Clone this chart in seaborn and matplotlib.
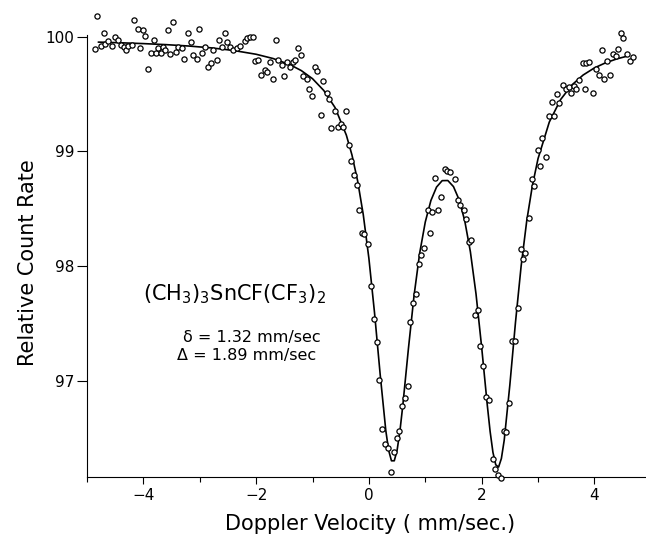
import matplotlib
matplotlib.use("Agg")
import matplotlib.pyplot as plt
import seaborn as sns
from matplotlib.ticker import MultipleLocator

# measured spectrum (open circles)
velocity = [
    -4.855, -4.814, -4.754, -4.707, -4.677, -4.619, -4.559, -4.495, -4.459, -4.399,
    -4.340, -4.305, -4.264, -4.204, -4.158, -4.098, -4.057, -4.009, -3.963, -3.910,
    -3.867, -3.809, -3.785, -3.732, -3.690, -3.654, -3.608, -3.560, -3.525, -3.466,
    -3.418, -3.378, -3.317, -3.271, -3.211, -3.158, -3.112, -3.051, -3.005, -2.963,
    -2.904, -2.846, -2.803, -2.757, -2.697, -2.661, -2.608, -2.550, -2.509, -2.461,
    -2.402, -2.342, -2.284, -2.195, -2.165, -2.106, -2.048, -2.012, -1.959, -1.917,
    -1.840, -1.810, -1.752, -1.704, -1.651, -1.605, -1.544, -1.504, -1.456, -1.397,
    -1.349, -1.309, -1.250, -1.197, -1.161, -1.101, -1.055, -1.012, -0.959, -0.913,
    -0.853, -0.807, -0.746, -0.700, -0.665, -0.599, -0.555, -0.498, -0.452, -0.413,
    -0.360, -0.310, -0.262, -0.215, -0.174, -0.117, -0.080, -0.009, 0.034, 0.087,
    0.142, 0.186, 0.239, 0.287, 0.346, 0.390, 0.443, 0.491, 0.541, 0.585,
    0.638, 0.699, 0.722, 0.789, 0.837, 0.881, 0.926, 0.982, 1.041, 1.085,
    1.126, 1.222, 1.275, 1.177, 1.346, 1.387, 1.440, 1.528, 1.587, 1.624,
    1.688, 1.723, 1.782, 1.809, 1.883, 1.927, 1.972, 2.025, 2.074, 2.126,
    2.197, 2.232, 2.282, 2.339, 2.394, 2.436, 2.480, 2.539, 2.583, 2.637,
    2.699, 2.729, 2.775, 2.832, 2.888, 2.933, 2.995, 3.035, 3.076, 3.137,
    3.200, 3.243, 3.289, 3.332, 3.378, 3.438, 3.491, 3.550, 3.585, 3.638,
    3.674, 3.727, 3.793, 3.833, 3.846, 3.899, 3.980, 4.028, 4.082, 4.129,
    4.170, 4.229, 4.277, 4.324, 4.383, 4.413, 4.466, 4.512, 4.583, 4.631,
    4.690,
]
countRate = [
    99.89, 100.18, 99.92, 100.03, 99.94, 99.96, 99.92, 100.00, 99.97, 99.93,
    99.91, 99.88, 99.92, 99.93, 100.15, 100.07, 99.90, 100.06, 100.01, 99.72,
    99.86, 99.97, 99.86, 99.90, 99.86, 99.91, 99.88, 100.06, 99.85, 100.13,
    99.87, 99.91, 99.90, 99.81, 100.03, 99.95, 99.84, 99.81, 100.07, 99.86,
    99.91, 99.74, 99.77, 99.88, 99.80, 99.97, 99.91, 100.03, 99.95, 99.91,
    99.88, 99.90, 99.92, 99.96, 99.99, 100.00, 100.00, 99.79, 99.80, 99.67,
    99.71, 99.69, 99.78, 99.63, 99.97, 99.80, 99.75, 99.66, 99.78, 99.74,
    99.78, 99.80, 99.90, 99.84, 99.66, 99.63, 99.54, 99.48, 99.74, 99.70,
    99.32, 99.61, 99.51, 99.46, 99.20, 99.35, 99.21, 99.24, 99.21, 99.35,
    99.06, 98.92, 98.79, 98.71, 98.49, 98.29, 98.28, 98.19, 97.83, 97.54,
    97.34, 97.01, 96.58, 96.45, 96.41, 96.20, 96.38, 96.50, 96.56, 96.78,
    96.85, 96.95, 97.51, 97.68, 97.76, 98.02, 98.10, 98.16, 98.49, 98.29,
    98.47, 98.49, 98.60, 98.77, 98.85, 98.83, 98.82, 98.76, 98.58, 98.53,
    98.49, 98.41, 98.21, 98.23, 97.57, 97.62, 97.30, 97.13, 96.86, 96.83,
    96.32, 96.23, 96.18, 96.15, 96.56, 96.55, 96.81, 97.35, 97.35, 97.63,
    98.15, 98.06, 98.11, 98.42, 98.76, 98.70, 99.01, 98.87, 99.12, 98.95,
    99.31, 99.43, 99.31, 99.50, 99.42, 99.58, 99.54, 99.56, 99.51, 99.57,
    99.54, 99.62, 99.77, 99.54, 99.77, 99.78, 99.51, 99.72, 99.67, 99.88,
    99.63, 99.79, 99.67, 99.85, 99.83, 99.89, 100.03, 99.99, 99.85, 99.79,
    99.82,
]

# fitted curve (solid line)
fitVelocity = [
    -4.8, -4.4, -4.0, -3.6, -3.2, -2.8, -2.4, -2.0, -1.7, -1.4, -1.2, -1.0,
    -0.8, -0.6, -0.4, -0.3, -0.2, -0.1, 0.0, 0.1, 0.2, 0.3, 0.35, 0.4, 0.45,
    0.5, 0.55, 0.6, 0.7, 0.8, 0.9, 1.0, 1.1, 1.2, 1.3, 1.4, 1.5, 1.6, 1.7,
    1.8, 1.9, 2.0, 2.1, 2.15, 2.2, 2.25, 2.3, 2.35, 2.4, 2.5, 2.6, 2.7, 2.8,
    2.9, 3.0, 3.2, 3.4, 3.6, 3.8, 4.0, 4.2, 4.4, 4.6,
]
fitRate = [
    99.953, 99.947, 99.940, 99.931, 99.919, 99.903, 99.880, 99.847, 99.810,
    99.756, 99.705, 99.634, 99.531, 99.382, 99.142, 98.968, 98.743, 98.449,
    98.067, 97.592, 97.055, 96.565, 96.394, 96.302, 96.302, 96.393, 96.560,
    96.778, 97.275, 97.739, 98.111, 98.384, 98.572, 98.689, 98.745, 98.746,
    98.693, 98.579, 98.395, 98.125, 97.757, 97.293, 96.787, 96.558, 96.376,
    96.267, 96.247, 96.322, 96.481, 96.963, 97.509, 97.999, 98.396, 98.702,
    98.937, 99.256, 99.452, 99.579, 99.666, 99.728, 99.773, 99.807, 99.833,
]

xTicks = [-4, -2, 0, 2, 4]
yTicks = [97, 98, 99, 100]
compound = r"(CH$_3$)$_3$SnCF(CF$_3$)$_2$"
isomerShift = "δ = 1.32 mm/sec"
quadSplit = "Δ = 1.89 mm/sec"

sns.set_style("ticks")
plt.rcParams["font.family"] = ["DejaVu Sans"]
plt.rcParams["mathtext.fontset"] = "dejavusans"
plt.rcParams["text.color"] = "black"
plt.rcParams["axes.labelcolor"] = "black"

fig = plt.figure(figsize=(6.46, 5.35), dpi=100, facecolor="white")
ax = fig.add_axes([87 / 646, (535 - 477.3) / 535, 1 - 87 / 646, (477.3 - 35) / 535])

sns.lineplot(x=fitVelocity, y=fitRate, ax=ax, color="black", lw=1.2,
             estimator=None, sort=False, zorder=2)
sns.scatterplot(x=velocity, y=countRate, ax=ax, marker="o", s=14,
                facecolor="white", edgecolor="black", linewidth=0.9,
                zorder=3, clip_on=False)

ax.set_xlim(-5.0, 4.915)
ax.set_ylim(96.158, 100.015)
ax.set_xticks(xTicks)
ax.set_xticklabels([str(t).replace("-", "−") for t in xTicks])
ax.xaxis.set_minor_locator(MultipleLocator(1))
ax.set_yticks(yTicks)

sns.despine(ax=ax)
for side in ("left", "bottom"):
    ax.spines[side].set_linewidth(0.8)
    ax.spines[side].set_color("black")

ax.tick_params(axis="x", which="major", direction="out", length=5, width=0.8,
               labelsize=11, pad=3, colors="black")
ax.tick_params(axis="x", which="minor", direction="out", length=3.5, width=0.8,
               colors="black")
ax.tick_params(axis="y", direction="out", length=7, width=0.8,
               labelsize=11, pad=2, colors="black")

ax.set_xlabel("Doppler Velocity ( mm/sec.)", fontsize=15)
ax.set_ylabel("Relative Count Rate", fontsize=15)
ax.xaxis.set_label_coords(0.507, -0.083)
ax.yaxis.set_label_coords(-0.088, 0.4845)

ax.text(-4.0, 97.70, compound, fontsize=15, va="baseline", ha="left")
ax.text(-3.29, 97.34, isomerShift, fontsize=11.5, va="baseline", ha="left")
ax.text(-3.41, 97.18, quadSplit, fontsize=11.5, va="baseline", ha="left")

fig.savefig("out.png", dpi=100, facecolor="white")
plt.close(fig)
